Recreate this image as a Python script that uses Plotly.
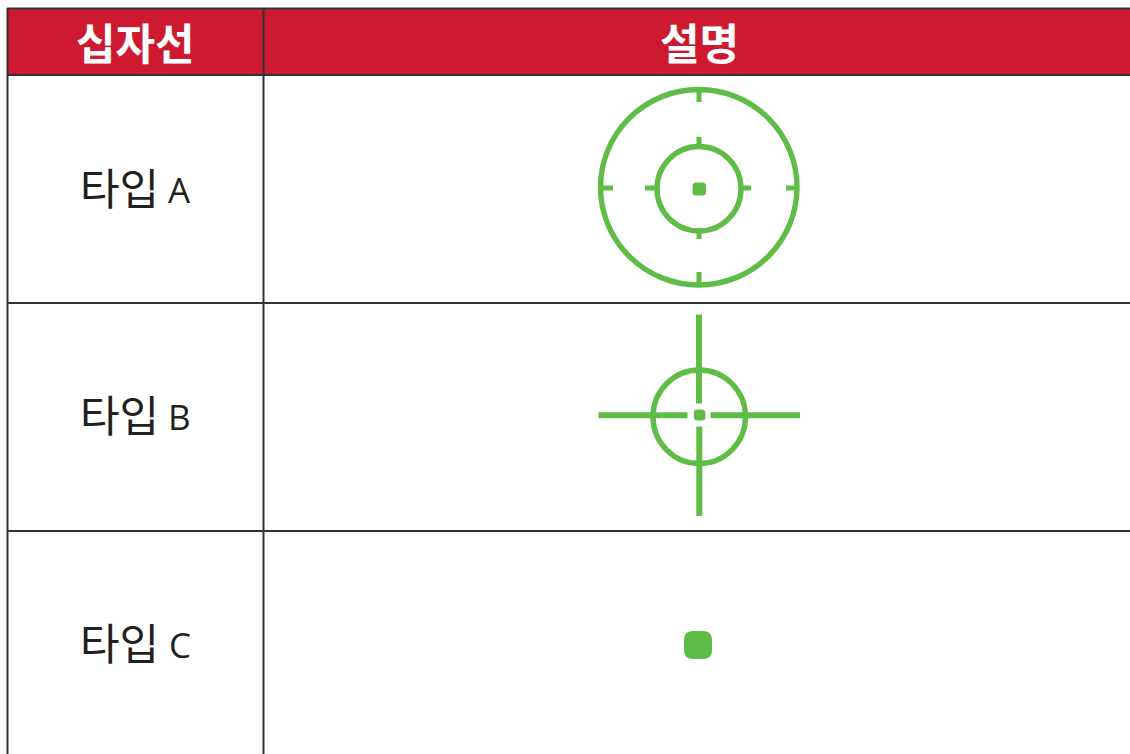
import plotly.graph_objects as go

WIDTH, HEIGHT = 1130, 754
RED = "#CE1A30"
GREEN = "#5FBC47"
DARK = "#333333"

header_labels = ["십자선", "설명"]
header_centers = [135, 699]
row_names = ["타입", "타입", "타입"]
row_letters = ["A", "B", "C"]
row_label_y = [186, 413, 641]
row_name_x = 119.5
row_letter_x = [179, 179.5, 179.5]
row_letter_y = [189.5, 416.5, 644]
h_rule_y = [8.5, 75, 303, 531]
v_rule_x = [7.5, 263.5]

# (x0, y0, x1, y1)
type_a_circles = [(600.5, 89.5, 797, 285), (657, 146.5, 741, 231)]
type_a_ticks = [
    (699, 89, 699, 102), (699, 272, 699, 286), (600, 188, 613, 188), (786, 188, 798, 188),
    (699, 137, 699, 147), (699, 231, 699, 239), (645, 188, 657, 188), (742, 188, 751, 188),
]
type_b_circle = (653, 370, 745.5, 463.5)
type_b_ticks = [
    (699, 314.5, 699, 403.5), (699.3, 426.5, 699.3, 516),
    (598.5, 415.3, 687.5, 415.3), (710.5, 415.3, 800, 415.3),
]
# (x0, y0, x1, y1, corner radius)
dots = [
    (692.6, 182.4, 706, 195.6, 3.6),
    (693.8, 409.6, 705.4, 420.6, 3.6),
    (684, 631, 712, 659, 9),
]


def rounded(x0, y0, x1, y1, r):
    return (f"M{x0 + r},{y0} L{x1 - r},{y0} Q{x1},{y0} {x1},{y0 + r} L{x1},{y1 - r} Q{x1},{y1} {x1 - r},{y1} "
            f"L{x0 + r},{y1} Q{x0},{y1} {x0},{y1 - r} L{x0},{y0 + r} Q{x0},{y0} {x0 + r},{y0} Z")


shapes = [dict(type="rect", x0=7, y0=8, x1=WIDTH, y1=75, fillcolor=RED, line_width=0, layer="below")]
for y in h_rule_y:
    shapes.append(dict(type="line", x0=7, x1=WIDTH, y0=y, y1=y, line=dict(color=DARK, width=2)))
for x in v_rule_x:
    shapes.append(dict(type="line", x0=x, x1=x, y0=8, y1=HEIGHT, line=dict(color=DARK, width=2)))
for c in type_a_circles + [type_b_circle]:
    shapes.append(dict(type="circle", x0=c[0], y0=c[1], x1=c[2], y1=c[3], line=dict(color=GREEN, width=5.4)))
for t in type_a_ticks:
    shapes.append(dict(type="line", x0=t[0], y0=t[1], x1=t[2], y1=t[3], line=dict(color=GREEN, width=5)))
for t in type_b_ticks:
    shapes.append(dict(type="line", x0=t[0], y0=t[1], x1=t[2], y1=t[3], line=dict(color=GREEN, width=6)))
for d in dots:
    shapes.append(dict(type="path", path=rounded(*d), fillcolor=GREEN, line_width=0))

annotations = []
for label, x in zip(header_labels, header_centers):
    annotations.append(dict(x=x, y=41, text=f"<b>{label}</b>", showarrow=False, xanchor="center", yanchor="middle",
                            font=dict(family="Noto Sans CJK KR", size=43, color="white")))
for name, y in zip(row_names, row_label_y):
    annotations.append(dict(x=row_name_x, y=y, text=name, showarrow=False, xanchor="center", yanchor="middle",
                            font=dict(family="Noto Sans CJK KR", size=43, color="#231F20")))
for letter, x, y in zip(row_letters, row_letter_x, row_letter_y):
    annotations.append(dict(x=x, y=y, text=letter, showarrow=False, xanchor="center", yanchor="middle",
                            font=dict(family="Open Sans", size=35, color="#231F20")))

fig = go.Figure()
fig.update_layout(
    width=WIDTH, height=HEIGHT, margin=dict(l=0, r=0, t=0, b=0, autoexpand=False),
    paper_bgcolor="white", plot_bgcolor="white", showlegend=False,
    xaxis=dict(range=[0, WIDTH], visible=False, fixedrange=True),
    yaxis=dict(range=[HEIGHT, 0], visible=False, fixedrange=True),
    shapes=shapes, annotations=annotations,
)
fig.write_html("out.html", config=dict(displayModeBar=False), include_plotlyjs=True,
               post_script="document.body.style.margin='0';document.body.style.overflow='hidden';")
